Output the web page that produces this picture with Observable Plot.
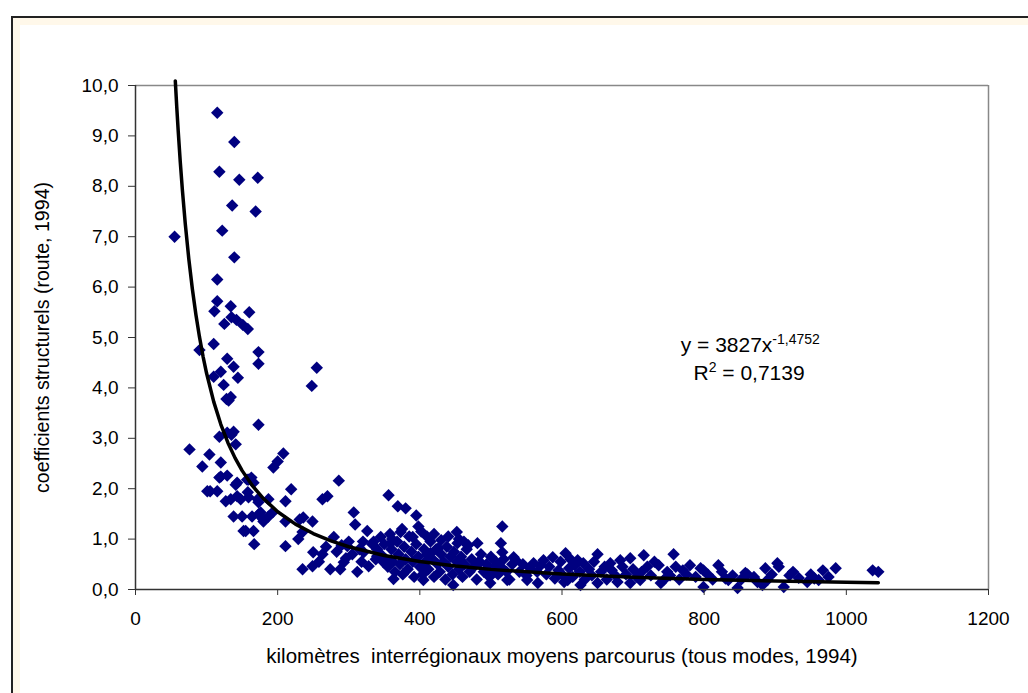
<!DOCTYPE html>
<html><head><meta charset="utf-8">
<script src="https://cdn.jsdelivr.net/npm/d3@7"></script>
<script src="https://cdn.jsdelivr.net/npm/@observablehq/plot@0.6"></script>
<style>
html,body{margin:0;padding:0;background:#fff;overflow:hidden;width:1028px;height:693px;}
#frame{position:absolute;left:11px;top:16px;width:1100px;height:800px;border-left:2px solid #222;border-top:2px solid #222;background:#fff8ea;}
#inner{position:absolute;left:20px;top:25px;width:1100px;height:800px;background:#fff;}
#chart{position:absolute;left:0;top:0;}
</style></head><body>
<div id="frame"></div><div id="inner"></div><div id="chart"></div>
<script>
// [km interrégionaux moyens, coefficient structurel route]
const pointsShort = [[55,7.0],[115,9.46],[139,8.88],[118,8.29],[146,8.13],[172,8.17],[136,7.62],[169,7.50],[122,7.12],[139,6.59],[115,6.15],[115,5.72],[111,5.52],[134,5.62],[160,5.50],[125,5.27],[135,5.40],[142,5.35],[151,5.25],[158,5.17],[110,4.87],[90,4.75],[129,4.58],[173,4.71],[138,4.42],[144,4.20],[173,4.48],[110,4.22],[120,4.32],[124,4.06],[128,3.78],[134,3.82],[131,3.75],[255,4.40],[248,4.04],[173,3.27],[76,2.78],[118,3.03],[138,3.13],[141,2.88],[135,3.07],[129,3.11],[104,2.68],[94,2.44],[120,2.52],[120,2.24],[129,2.26],[101,1.95],[115,1.95],[127,1.75],[134,1.79],[143,2.12],[148,1.79],[159,2.18],[158,1.93],[166,2.12],[138,1.45],[150,1.45],[164,1.45],[176,1.53],[152,1.16],[166,1.16],[167,0.90],[172,1.79],[180,1.39],[187,1.45],[193,1.53],[187,1.79],[194,2.42],[200,2.54],[208,2.70],[219,1.99],[211,1.75],[211,1.35],[211,0.86],[231,1.39],[249,1.35],[229,1.00],[235,1.14],[250,0.74],[235,0.40],[249,0.46],[236,1.43],[118,2.22],[141,2.08],[157,2.18],[163,2.22],[143,1.85],[159,1.83],[173,1.73],[173,1.49],[155,1.16],[180,1.35],[105,1.95]];
const pointsMid = [[263,0.70],[263,1.79],[270,1.85],[286,2.16],[279,1.04],[274,0.40],[288,0.40],[293,0.54],[307,1.53],[309,1.29],[298,0.86],[312,0.35],[326,1.16],[328,0.46],[345,1.04],[356,1.87],[369,1.65],[380,1.61],[395,1.47],[363,0.21],[361,1.00],[321,0.74],[340,0.66],[349,0.54],[258,0.55],[268,0.85],[283,0.75],[296,0.62],[305,0.70],[315,0.80],[318,0.55],[333,0.90],[338,0.60],[300,0.95],[320,0.95],[290,0.88],
[335,0.95],[340,0.80],[345,0.70],[350,0.90],[352,0.60],[355,0.45],[358,1.10],[360,0.80],[362,0.55],[365,0.35],[368,0.95],[370,0.70],[372,0.50],[375,1.20],[376,0.30],[378,0.85],[380,0.60],[383,0.40],[385,1.05],[388,0.75],[390,0.55],[392,0.25],[395,0.90],[398,0.65],[400,0.45],[402,1.15],[404,0.30],[406,0.80],[408,0.55],[410,0.70],[412,0.40],[415,0.95],[418,0.60],[420,0.25],[423,0.80],[425,0.50],[428,0.35],[430,0.70],[433,0.55],[436,0.20],[438,0.85],[440,0.45],[443,0.65],[446,0.30],[448,0.75],[452,0.55],[455,0.40],[458,0.65],[460,0.25],[463,0.50],[466,0.80],[470,0.35],[473,0.60],[476,0.45],[480,0.20],[483,0.55],[486,0.70],[490,0.35],[494,0.50],[498,0.25],
[452,1.14],[373,1.14],[390,1.04],[359,0.92],[481,0.92],[468,0.88],[453,0.92],[415,0.72],[426,0.82],[485,0.54],[405,0.19],[447,0.09],[499,0.13],[455,1.0],[462,0.95],[398,1.25],[410,1.05],[420,1.10],[430,0.98],[440,1.05]];
const pointsLong = [[500,0.65],[503,0.40],[507,0.55],[510,0.30],[514,0.45],[518,0.60],[522,0.35],[526,0.20],[530,0.50],
[516,1.25],[514,0.92],[516,0.74],[523,0.19],[532,0.64],[535,0.58],[551,0.19],[560,0.52],[566,0.13],[574,0.58],[587,0.64],[605,0.72],[608,0.19],[622,0.58],[626,0.09],[650,0.70],[650,0.13],[668,0.52],[678,0.15],[682,0.58],[696,0.62],[696,0.13],[710,0.19],[715,0.68],[736,0.48],[739,0.13],[743,0.19],[757,0.70],[770,0.38],[795,0.42],[799,0.05],[799,0.38],[820,0.48],[834,0.19],[847,0.03],[858,0.33],[861,0.30],[882,0.09],[886,0.42],[889,0.19],[903,0.52],[912,0.05],[933,0.23],[945,0.15],[961,0.19],[967,0.38],[985,0.42],[1037,0.38],[1045,0.35],
[540,0.35],[545,0.50],[550,0.28],[555,0.42],[565,0.35],[570,0.48],[578,0.30],[582,0.45],[590,0.22],[595,0.38],[598,0.55],[600,0.30],[603,0.15],[610,0.42],[612,0.60],[615,0.25],[618,0.48],[625,0.35],[630,0.52],[632,0.20],[638,0.40],[642,0.28],[645,0.55],[655,0.35],[660,0.45],[663,0.20],[670,0.38],[675,0.28],[685,0.45],[690,0.30],[700,0.40],[705,0.25],[712,0.35],[720,0.45],[725,0.28],[730,0.55],[748,0.35],[752,0.28],[760,0.45],[765,0.20],[775,0.30],[780,0.48],[788,0.25],[805,0.30],[812,0.20],[825,0.35],[830,0.22],[840,0.28],[852,0.20],[870,0.25],[875,0.15],[895,0.30],[905,0.45],[920,0.28],[925,0.35],[950,0.30],[955,0.22],[975,0.25]];

// Power trend line shown on the chart: y = 3827 x^-1,4752
const trendA = 3827, trendB = -1.4752;
const trendX = [56,58,60,63,66,70,75,80,85,90,95,100,110,120,130,140,150,165,180,200,225,250,275,300,350,400,450,500,600,700,800,900,1000,1045];

const xTicks = [0,200,400,600,800,1000,1200];
const yTicks = [0,1,2,3,4,5,6,7,8,9,10];
const xTitle = "kilomètres\u00a0 interrégionaux moyens parcourus (tous modes, 1994)";
const yTitle = "coefficients structurels (route, 1994)";
const eqLines = [["y = 3827x", "-1,4752", ""], ["R", "2", " = 0,7139"]];

const points = [...pointsShort, ...pointsMid, ...pointsLong].map(([x, y]) => ({x, y}));
const trend = trendX.map(x => ({x, y: trendA * Math.pow(x, trendB)}));

const plot = Plot.plot({
  width: 1028, height: 693,
  marginLeft: 135, marginRight: 40, marginTop: 85, marginBottom: 104,
  style: {fontFamily: "'Liberation Sans', Arial, sans-serif", fontSize: "19px", color: "#000", background: "none", overflow: "visible"},
  x: {domain: [0, 1200]},
  y: {domain: [0, 10]},
  marks: [
    Plot.ruleY([10], {stroke: "#888", strokeWidth: 1.5}),
    Plot.ruleX([1200], {stroke: "#888", strokeWidth: 1.5}),
    Plot.dot(points, {x: "x", y: "y", symbol: "diamond2", r: 5.6, fill: "#000080", stroke: "none"}),
    Plot.line(trend, {x: "x", y: "y", stroke: "#000", strokeWidth: 3.5, clip: false}),
    Plot.ruleX([0], {stroke: "#333", strokeWidth: 1.5}),
    Plot.ruleY([0], {stroke: "#333", strokeWidth: 1.5}),
    Plot.axisX({ticks: xTicks, tickFormat: d => String(d), tickSize: 6, tickPadding: 16, label: null, stroke: "#333", fontSize: 19}),
    Plot.axisY({ticks: yTicks, tickFormat: d => d.toFixed(1).replace(".", ","), tickSize: 7, tickPadding: 10, label: null, stroke: "#333", fontSize: 19}),
    Plot.text([xTitle], {frameAnchor: "bottom", dy: 73, fontSize: 20.5, textAnchor: "middle"}),
    Plot.text([yTitle], {frameAnchor: "left", dx: -93, rotate: -90, fontSize: 19.6, textAnchor: "middle"}),
    Plot.text(eqLines, {x: (d, i) => i === 0 ? 767 : 785, y: (d, i) => i === 0 ? 4.84 : 4.29, text: d => d.join(""), textAnchor: "start", fontSize: 21})
  ]
});
document.getElementById("chart").appendChild(plot);

// rebuild equation labels with superscripts
d3.select(plot).selectAll("text").each(function() {
  const t = this.textContent;
  const line = eqLines.find(p => p.join("") === t);
  if (!line) return;
  const el = d3.select(this);
  el.text(null);
  el.append("tspan").text(line[0]);
  el.append("tspan").attr("dy", "-8").attr("font-size", 14).text(line[1]);
  if (line[2]) el.append("tspan").attr("dy", "8").attr("font-size", 21).text(line[2]);
});
</script>
</body></html>
